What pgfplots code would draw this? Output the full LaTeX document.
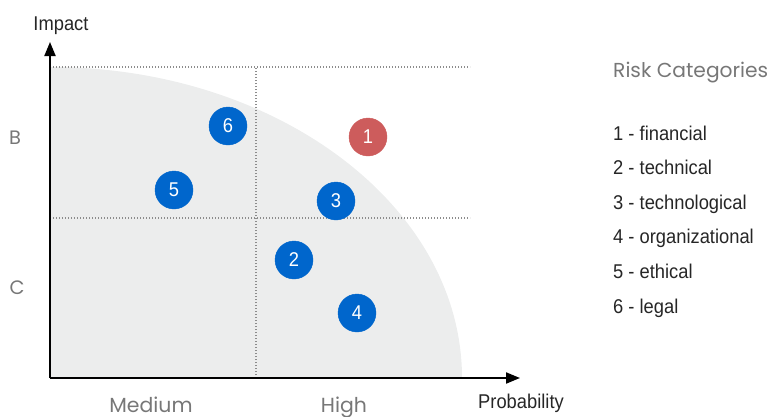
\documentclass[border=0pt]{standalone}
\usepackage{pgfplots}
\pgfplotsset{compat=1.18}
\usetikzlibrary{arrows.meta}
\usepackage{fontspec}
\setmainfont{Liberation Sans}
\newfontfamily\condf{Liberation Sans}[FakeStretch=0.92]
\newfontfamily\geof{Poppins}
\definecolor{rblue}{HTML}{0066CC}
\definecolor{rred}{HTML}{CD5C5C}
\definecolor{rfill}{HTML}{ECEDED}
\definecolor{rdot}{HTML}{8C8C8C}
\definecolor{rtext}{HTML}{777777}
\begin{document}
\begin{tikzpicture}[x=1bp,y=1bp]
\path[use as bounding box] (-50,-38) rectangle (721,378);
\begin{axis}[x=1bp,y=1bp,
  anchor=south west, at={(0,0)},
  xmin=0,xmax=470,ymin=0,ymax=336,
  axis lines=left,
  axis line style={line width=2bp, -{Triangle[length=14bp,width=11bp]}},
  xtick=\empty, ytick=\empty,
  clip=false, axis on top=true]
\fill[rfill] (axis cs:0,0) -- (axis cs:0,311) arc[start angle=90,end angle=0,x radius=412bp,y radius=311bp] -- cycle;
\addplot[rdot, line width=1.3bp, dash pattern=on 1.3bp off 1.7bp] coordinates {(0,311) (420,311)};
\addplot[rdot, line width=1.3bp, dash pattern=on 1.3bp off 1.7bp] coordinates {(0,160) (420,160)};
\addplot[rdot, line width=1.3bp, dash pattern=on 1.3bp off 1.7bp] coordinates {(206,0) (206,311)};
\addplot[only marks, mark=*, mark size=19bp, color=rblue,
  nodes near coords, point meta=explicit symbolic,
  nodes near coords style={anchor=center, text=white, font=\condf\fontsize{20}{20}\selectfont}]
  table[meta=label] {
x y label
244 118 2
286 177 3
307 65 4
124 188 5
178 252 6
};
\addplot[only marks, mark=*, mark size=19bp, color=rred,
  nodes near coords, point meta=explicit symbolic,
  nodes near coords style={anchor=center, text=white, font=\condf\fontsize{20}{20}\selectfont}]
  table[meta=label] {
x y label
318 241 1
};
\end{axis}
\begin{scope}[every node/.style={inner sep=0pt}]
\node[anchor=base, font=\condf\fontsize{20}{20}\selectfont, text=black!85] at (11,348) {Impact};
\node[anchor=base, font=\condf\fontsize{20}{20}\selectfont, text=black!85] at (471,-30) {Probability};
\node[anchor=base, font=\geof\fontsize{20.5}{20.5}\selectfont, text=rtext] at (101,-34) {Medium};
\node[anchor=base, font=\geof\fontsize{20.5}{20.5}\selectfont, text=rtext] at (294,-34) {High};
\node[anchor=base, font=\geof\fontsize{19.5}{19.5}\selectfont, text=rtext] at (-35,234) {B};
\node[anchor=base, font=\geof\fontsize{19.5}{19.5}\selectfont, text=rtext] at (-33,84) {C};
\node[anchor=base west, font=\geof\fontsize{20.3}{20.3}\selectfont, text=rtext] at (563,301) {Risk Categories};
\foreach \t [count=\i] in {1 - financial, 2 - technical, 3 - technological, 4 - organizational, 5 - ethical, 6 - legal}
  \node[anchor=base west, font=\condf\fontsize{20}{20}\selectfont, text=black!85] at (563,{238-(\i-1)*34.6}) {\t};
\end{scope}
\end{tikzpicture}
\end{document}
